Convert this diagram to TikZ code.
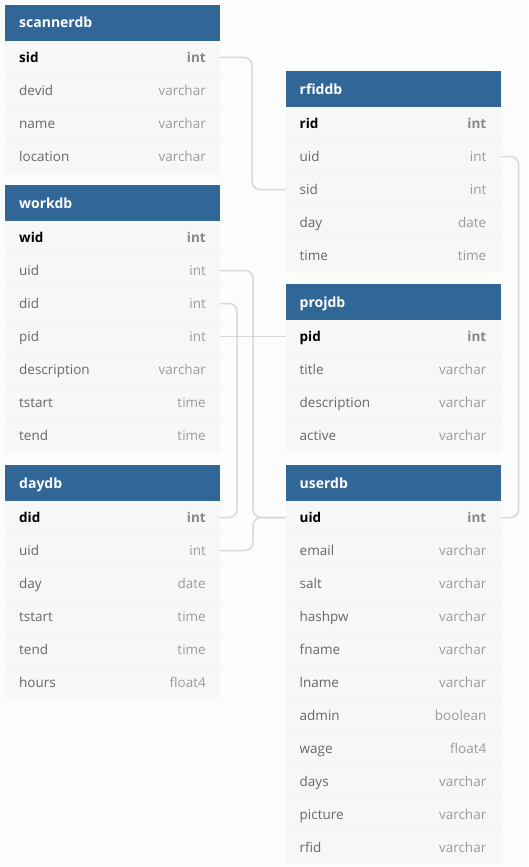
\documentclass[tikz,border=0pt]{standalone}
\usepackage{fontspec}
\setmainfont{Open Sans}
\usetikzlibrary{calc}
\definecolor{hdrblue}{RGB}{49,103,150}
\definecolor{rowbg}{RGB}{247,247,247}
\definecolor{rowline}{RGB}{241,241,241}
\definecolor{pagebg}{RGB}{252,252,252}
\definecolor{fieldgray}{RGB}{104,104,104}
\definecolor{typegray}{RGB}{155,155,155}
\definecolor{keytypegray}{RGB}{136,136,136}
\definecolor{conngray}{RGB}{216,216,216}
\tikzset{
  hdr/.style={fill=hdrblue, draw=none, minimum width=215pt, minimum height=36pt, anchor=north west, inner sep=0pt, outer sep=0pt},
  rowbox/.style={fill=rowbg, draw=none, minimum width=215pt, minimum height=33pt, anchor=north west, inner sep=0pt, outer sep=0pt},
  hdrtext/.style={text=white, font=\bfseries\fontsize{14}{16}\selectfont, anchor=base west, inner sep=0pt},
  fldN/.style={text=fieldgray, font=\fontsize{13.5}{16}\selectfont, anchor=base west, inner sep=0pt},
  fldT/.style={text=typegray, font=\fontsize{13.5}{16}\selectfont, anchor=base east, inner sep=0pt},
  keyN/.style={text=black, font=\bfseries\fontsize{13.5}{16}\selectfont, anchor=base west, inner sep=0pt},
  keyT/.style={text=keytypegray, font=\bfseries\fontsize{13.5}{16}\selectfont, anchor=base east, inner sep=0pt},
  sepline/.style={draw=rowline, line width=0.6pt},
  conn/.style={draw=conngray, line width=1.5pt, rounded corners=8pt}
}
\newcommand\dbtable[4]{%
  \node[hdr] (#1) at (#2,#3) {};
  \node[hdrtext] (#1-title) at ($(#1.west)+(14,5)$) {#1};
  \foreach \k/\t/\s [count=\i from 0] in {#4} {
    \node[rowbox] (#1-\k) at (#2,#3+36+33*\i) {};
    \ifnum\i>0 \draw[sepline] (#1-\k.north west) -- (#1-\k.north east);\fi
    \node[\s N] (#1-\k-n) at ($(#1-\k.west)+(14,4.8)$) {\k};
    \node[\s T] (#1-\k-t) at ($(#1-\k.east)+(-14,4.8)$) {\t};
  }
}
\begin{document}
\begin{tikzpicture}[x=1pt,y=-1pt]
\fill[pagebg] (0,0) rectangle (528,867);
\useasboundingbox (0,0) rectangle (528,867);

\dbtable{scannerdb}{5}{5}{sid/int/key, devid/varchar/fld, name/varchar/fld, location/varchar/fld}
\dbtable{workdb}{5}{185}{wid/int/key, uid/int/fld, did/int/fld, pid/int/fld, description/varchar/fld, tstart/time/fld, tend/time/fld}
\dbtable{daydb}{5}{465}{did/int/key, uid/int/fld, day/date/fld, tstart/time/fld, tend/time/fld, hours/float4/fld}
\dbtable{rfiddb}{285.5}{71}{rid/int/key, uid/int/fld, sid/int/fld, day/date/fld, time/time/fld}
\dbtable{projdb}{285.5}{284}{pid/int/key, title/varchar/fld, description/varchar/fld, active/varchar/fld}
\dbtable{userdb}{285.5}{465}{uid/int/key, email/varchar/fld, salt/varchar/fld, hashpw/varchar/fld, fname/varchar/fld, lname/varchar/fld, admin/boolean/fld, wage/float4/fld, days/varchar/fld, picture/varchar/fld, rfid/varchar/fld}

\draw[conn] (scannerdb-sid.east) -- ++(32,0) |- (rfiddb-sid.west);
\draw[conn] (rfiddb-uid.east) -- ++(18,0) |- (userdb-uid.east);
\draw[conn] (workdb-uid.east) -- ++(33,0) |- (userdb-uid.west);
\draw[conn] (daydb-uid.east) -- ++(33,0) |- (userdb-uid.west);
\draw[conn] (workdb-did.east) -- ++(17,0) |- (daydb-did.east);
\draw[conn] (workdb-pid.east) -- (projdb-pid.west);
\end{tikzpicture}
\end{document}
